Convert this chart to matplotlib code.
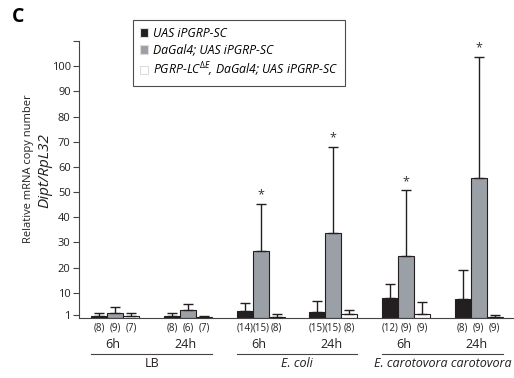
import matplotlib
matplotlib.use("Agg")
import matplotlib.pyplot as plt
import matplotlib.transforms as mtransforms
import numpy as np

plt.rcParams['font.family'] = ['Open Sans', 'DejaVu Sans']
plt.rcParams['mathtext.fontset'] = 'custom'
plt.rcParams['mathtext.it'] = 'Open Sans:italic'
plt.rcParams['mathtext.rm'] = 'Open Sans'

series_names = ["UAS iPGRP-SC", "DaGal4; UAS iPGRP-SC",
                r"PGRP-LC$^{\mathit{\Delta E}}$, DaGal4; UAS iPGRP-SC"]
conditions = ["LB 6h", "LB 24h", "E.coli 6h", "E.coli 24h", "Ecc 6h", "Ecc 24h"]
time_labels = ["6h", "24h", "6h", "24h", "6h", "24h"]
treatments = ["LB", "E. coli", "E. carotovora carotovora"]

black_vals = [0.9, 0.9, 2.7, 2.5, 8.0, 7.5]
black_err = [1.0, 1.0, 3.4, 4.2, 5.7, 11.5]
gray_vals = [1.9, 3.0, 26.6, 33.7, 24.7, 55.7]
gray_err = [2.4, 2.6, 18.8, 34.1, 26.0, 48.1]
white_vals = [0.8, 0.6, 0.6, 1.4, 1.7, 0.6]
white_err = [1.0, 0.3, 1.1, 1.6, 4.8, 0.4]

n_labels = [["(8)", "(9)", "(7)"], ["(8)", "(6)", "(7)"], ["(14)", "(15)", "(8)"],
            ["(15)", "(15)", "(8)"], ["(12)", "(9)", "(9)"], ["(8)", "(9)", "(9)"]]
yticks = [1, 10, 20, 30, 40, 50, 60, 70, 80, 90, 100]

fig = plt.figure(figsize=(5.14, 3.78), dpi=100)
ax = fig.add_axes([0.1537, 0.1587, 0.844, 0.7328])

x = np.arange(len(conditions))
w = 0.22
colors = ["#231f20", "#9aa0a6", "white"]
vals = [black_vals, gray_vals, white_vals]
errs = [black_err, gray_err, white_err]
for i in range(3):
    xs = x + (i - 1) * w
    ax.bar(xs, vals[i], width=w, color=colors[i], edgecolor="#231f20",
           linewidth=0.8, zorder=2, label=series_names[i])
    ax.errorbar(xs, vals[i], yerr=[np.zeros(len(errs[i])), errs[i]], fmt="none",
                ecolor="#231f20", elinewidth=1.0, capsize=3.5, capthick=1.0, zorder=3)

# significance stars above gray bars (E. coli and Ecc)
for j in range(2, 6):
    ax.text(x[j], gray_vals[j] + gray_err[j] + 1.0, "*", ha="center", va="bottom",
            fontsize=9, color="#333333")

ax.set_xlim(-0.5, 5.47)
ax.set_ylim(0, 110)
ax.set_yticks(yticks + [110])
ax.set_yticklabels([str(t) for t in yticks] + [""], fontsize=8, color="#231f20")
ax.set_xticks([])
for s in ["top", "right"]:
    ax.spines[s].set_visible(False)
ax.spines["left"].set_color("#444444")
ax.spines["bottom"].set_color("#444444")
ax.tick_params(axis="y", length=4, width=0.8, color="#444444", pad=2)

# labels below axis
trans = mtransforms.blended_transform_factory(ax.transData, ax.transAxes)
for j in range(len(conditions)):
    for i in range(3):
        ax.text(x[j] + (i - 1) * w, -0.036, n_labels[j][i], transform=trans,
                ha="center", va="center", fontsize=7, color="#231f20")
    ax.text(x[j] - 0.03, -0.097, time_labels[j], transform=trans,
            ha="center", va="center", fontsize=9, color="#231f20")
for k in range(3):
    x0 = x[2 * k] - 0.33
    x1 = x[2 * k + 1] + 0.33
    ax.plot([x0, x1], [-0.13, -0.13], transform=trans, color="#444444",
            linewidth=0.8, clip_on=False)
    ax.text((x0 + x1) / 2, -0.165, treatments[k], transform=trans, ha="center",
            va="center", fontsize=9, color="#231f20",
            style="normal" if k == 0 else "italic")

# y label
fig.text(0.056, 0.555, "Relative mRNA copy number", rotation=90, ha="center",
         va="center", fontsize=8, color="#231f20")
fig.text(0.087, 0.548, "Dipt/RpL32", rotation=90, ha="center", va="center",
         fontsize=11, style="italic", color="#231f20")

# panel letter
fig.text(0.023, 0.955, "C", fontsize=14, fontweight="bold", ha="left", va="center")

leg = ax.legend(loc="upper left", bbox_to_anchor=(0.124, 1.075),
                frameon=True, fancybox=False, handlelength=0.7, handleheight=0.7,
                handletextpad=0.4, borderpad=0.55, labelspacing=0.3,
                borderaxespad=0, prop={"style": "italic", "size": 8.8})
leg.get_frame().set_edgecolor("#231f20")
leg.get_frame().set_linewidth(0.8)
for h in leg.legend_handles:
    h.set_edgecolor("#dddddd")
leg.legend_handles[0].set_facecolor("#231f20")
leg.legend_handles[1].set_facecolor("#9aa0a6")

fig.savefig("out.png", dpi=100)
